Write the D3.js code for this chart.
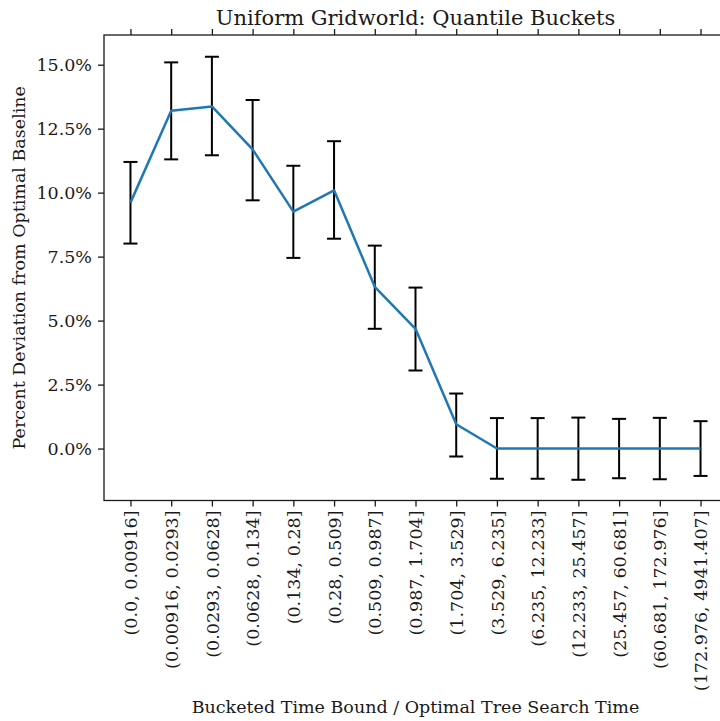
<!DOCTYPE html>
<html>
<head>
<meta charset="utf-8">
<script src="https://cdn.jsdelivr.net/npm/d3@7"></script>
<style>
  body { margin: 0; background: #fff; }
  svg { display: block; }
  text { font-family: "DejaVu Serif", serif; fill: #1a1a1a; }
</style>
</head>
<body>
<svg id="chart" width="720" height="721"></svg>
<script>
// Quantile buckets of (time bound / optimal tree search time)
const buckets = [
  "(0.0, 0.00916]", "(0.00916, 0.0293]", "(0.0293, 0.0628]", "(0.0628, 0.134]",
  "(0.134, 0.28]", "(0.28, 0.509]", "(0.509, 0.987]", "(0.987, 1.704]",
  "(1.704, 3.529]", "(3.529, 6.235]", "(6.235, 12.233]", "(12.233, 25.457]",
  "(25.457, 60.681]", "(60.681, 172.976]", "(172.976, 4941.407]"
];
// Mean percent deviation from the optimal baseline
const meanDev = [9.61, 13.20, 13.37, 11.69, 9.26, 10.09, 6.32, 4.68, 0.95, 0, 0, 0, 0, 0, 0];
// Error bar extents (upper / lower)
const upperDev = [11.20, 15.09, 15.31, 13.62, 11.05, 12.01, 7.93, 6.29, 2.15, 1.19, 1.19, 1.21, 1.16, 1.20, 1.07];
const lowerDev = [8.01, 11.30, 11.46, 9.70, 7.45, 8.20, 4.68, 3.05, -0.31, -1.18, -1.18, -1.22, -1.16, -1.20, -1.07];
const yTicks = [0, 2.5, 5, 7.5, 10, 12.5, 15];

const svg = d3.select("#chart");
const W = 720, H = 721;
// plot area; the right edge of the axes frame runs just past the canvas
const x0 = 104, x1 = 727, y0 = 35, y1 = 500.5;

const x = d3.scalePoint().domain(buckets).range([x0, x1]).padding(0.65);
const y = d3.scaleLinear().domain([-2.03, 16.16]).range([y1, y0]);

const fmt = d => d.toFixed(1) + "%";
const FS = "17.5px";

// Axes
const gx = svg.append("g").attr("transform", `translate(0,${y1})`)
  .call(d3.axisBottom(x).tickSize(6).tickPadding(4));
gx.selectAll("text")
  .attr("transform", "rotate(-90)")
  .attr("text-anchor", "end")
  .attr("x", -10).attr("y", 0).attr("dy", "0.35em");

const gt = svg.append("g").attr("transform", `translate(0,${y0})`)
  .call(d3.axisTop(x).tickSize(6).tickFormat(""));

const gy = svg.append("g").attr("transform", `translate(${x0},0)`)
  .call(d3.axisLeft(y).tickValues(yTicks).tickFormat(fmt).tickSize(6).tickPadding(6));

[gx, gt, gy].forEach(g => {
  g.select(".domain").remove();
  g.selectAll("line").attr("stroke", "#1a1a1a").attr("stroke-width", 1.3);
  g.selectAll("text").style("font-family", "DejaVu Serif").style("font-size", FS).attr("fill", "#1a1a1a");
});

// Frame
svg.append("rect")
  .attr("x", x0).attr("y", y0).attr("width", x1 - x0).attr("height", y1 - y0)
  .attr("fill", "none").attr("stroke", "#1a1a1a").attr("stroke-width", 1.3);

// Error bars
const eb = svg.append("g").attr("stroke", "#000").attr("stroke-width", 2);
buckets.forEach((b, i) => {
  const cx = x(b);
  eb.append("line").attr("x1", cx).attr("x2", cx).attr("y1", y(upperDev[i])).attr("y2", y(lowerDev[i]));
  eb.append("line").attr("x1", cx - 7).attr("x2", cx + 7).attr("y1", y(upperDev[i])).attr("y2", y(upperDev[i]));
  eb.append("line").attr("x1", cx - 7).attr("x2", cx + 7).attr("y1", y(lowerDev[i])).attr("y2", y(lowerDev[i]));
});

// Mean line
const line = d3.line().x((d, i) => x(buckets[i])).y(d => y(d));
svg.append("path").datum(meanDev)
  .attr("d", line).attr("fill", "none")
  .attr("stroke", "#1f77b4").attr("stroke-width", 2.5).attr("stroke-linejoin", "round");

// Titles
const cxPlot = (x0 + x1) / 2;
svg.append("text").attr("x", cxPlot).attr("y", 25)
  .attr("text-anchor", "middle").style("font-size", "21px")
  .text("Uniform Gridworld: Quantile Buckets");

svg.append("text").attr("x", cxPlot).attr("y", 713)
  .attr("text-anchor", "middle").style("font-size", FS)
  .text("Bucketed Time Bound / Optimal Tree Search Time");

svg.append("text")
  .attr("transform", `translate(25,${(y0 + y1) / 2}) rotate(-90)`)
  .attr("text-anchor", "middle").style("font-size", FS)
  .text("Percent Deviation from Optimal Baseline");
</script>
</body>
</html>
